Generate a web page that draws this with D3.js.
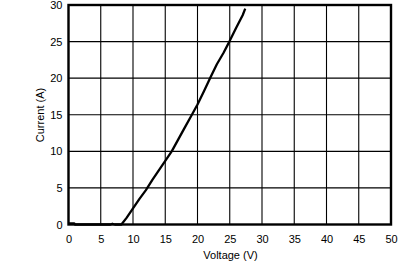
<!DOCTYPE html>
<html>
<head>
<meta charset="utf-8">
<script src="https://cdn.jsdelivr.net/npm/d3@7"></script>
<style>
body { margin:0; background:#fff; }
text { font-family: "Liberation Sans", Arial, sans-serif; font-size: 11px; fill:#000; }
</style>
</head>
<body>
<div class="chart_div"></div>
<script>
var voltage = [0, 0.9, 1.0, 4, 6.5, 6.8, 7.2, 8.2, 9, 10, 11, 12, 13, 14, 15, 16, 17, 18, 19, 20, 21, 22, 23, 24, 25, 26, 27, 27.4];
var current = [0.15, 0.15, 0, 0, 0, 0.1, 0, 0, 0.9, 2.2, 3.5, 4.7, 6.1, 7.4, 8.7, 10.0, 11.6, 13.2, 14.8, 16.4, 18.2, 20.1, 21.9, 23.4, 25.1, 26.9, 28.6, 29.5];
var xTicks = [0, 5, 10, 15, 20, 25, 30, 35, 40, 45, 50];
var yTicks = [0, 5, 10, 15, 20, 25, 30];

var plotLeft = 68.5, plotRight = 391, plotTop = 5, plotBottom = 224.5;

var svg = d3.select(".chart_div").append("svg")
			.attr("width", 406)
			.attr("height", 266);

var x = d3.scaleLinear().domain([0, 50]).range([plotLeft, plotRight]);
var y = d3.scaleLinear().domain([0, 30]).range([plotBottom, plotTop]);

// grid
svg.selectAll(".vgrid")
	.data(xTicks)
	.enter()
	.append("line")
	.attr("class", "vgrid")
	.attr("x1", function(d){ return x(d); })
	.attr("x2", function(d){ return x(d); })
	.attr("y1", plotTop)
	.attr("y2", plotBottom)
	.attr("stroke", "#000")
	.attr("stroke-width", 1.1);

svg.selectAll(".hgrid")
	.data(yTicks)
	.enter()
	.append("line")
	.attr("class", "hgrid")
	.attr("x1", plotLeft)
	.attr("x2", plotRight)
	.attr("y1", function(d){ return y(d); })
	.attr("y2", function(d){ return y(d); })
	.attr("stroke", "#000")
	.attr("stroke-width", 1.1);

// frame
svg.append("rect")
	.attr("x", plotLeft)
	.attr("y", plotTop)
	.attr("width", plotRight - plotLeft)
	.attr("height", plotBottom - plotTop)
	.attr("fill", "none")
	.attr("stroke", "#000")
	.attr("stroke-width", 2.4);

// tick labels
var xAxis = d3.axisBottom(x).tickValues(xTicks).tickSize(0).tickPadding(11);
svg.append("g")
	.attr("transform", "translate(0," + plotBottom + ")")
	.call(xAxis)
	.call(function(g){ g.select(".domain").remove(); })
	.selectAll("text")
	.style("font-size", "11px")
	.style("font-family", "Liberation Sans, Arial, sans-serif");

var yAxis = d3.axisLeft(y).tickValues(yTicks).tickSize(0).tickPadding(6);
svg.append("g")
	.attr("transform", "translate(" + plotLeft + ",0)")
	.call(yAxis)
	.call(function(g){ g.select(".domain").remove(); })
	.selectAll("text")
	.style("font-size", "11px")
	.style("font-family", "Liberation Sans, Arial, sans-serif");

// curve
var line = d3.line()
	.x(function(d){ return x(d[0]); })
	.y(function(d){ return y(d[1]); });

svg.append("path")
	.datum(d3.zip(voltage, current))
	.attr("d", line)
	.attr("fill", "none")
	.attr("stroke", "#000")
	.attr("stroke-width", 2.3)
	.attr("stroke-linejoin", "round");

svg.append("text")
	.attr("x", 230.5)
	.attr("y", 259)
	.attr("text-anchor", "middle")
	.text("Voltage (V)");

svg.append("text")
	.attr("transform", "translate(43.5,115) rotate(-90)")
	.attr("text-anchor", "middle")
	.text("Current (A)");
</script>
</body>
</html>
